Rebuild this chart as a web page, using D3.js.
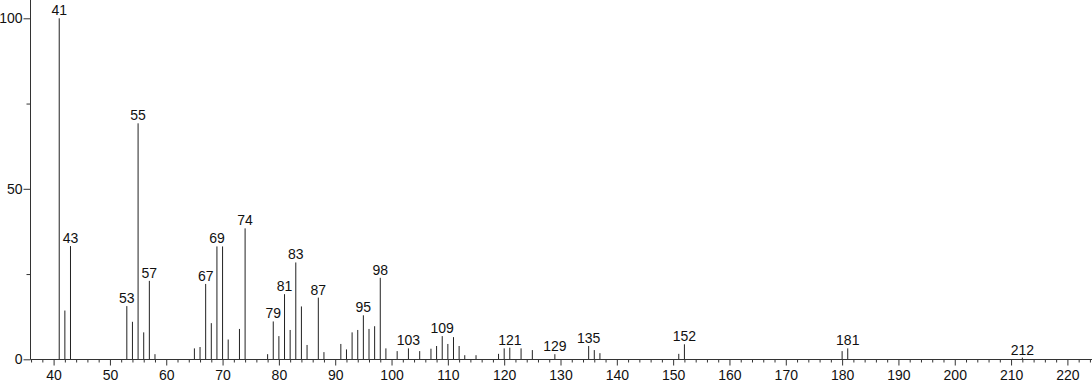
<!DOCTYPE html>
<html>
<head>
<meta charset="utf-8">
<script src="https://cdn.jsdelivr.net/npm/d3@7"></script>
<style>
html,body{margin:0;padding:0;background:#fff;}
svg{display:block;}
text{font-family:"Liberation Sans",Arial,sans-serif;font-size:14px;fill:#111;}
</style>
</head>
<body>
<svg id="chart" width="1092" height="384"></svg>
<script>
const mz = [41,42,43,53,54,55,56,57,58,65,66,67,68,69,70,71,73,74,78,79,80,81,82,83,84,85,87,88,91,92,93,94,95,96,97,98,99,101,103,105,107,108,109,110,111,112,113,115,119,120,121,123,125,129,135,136,137,151,152,180,181,212];
const intensity = [100,14.3,33.2,15.6,11.0,69.2,7.9,23.0,1.5,3.2,3.6,22.1,10.6,33.1,33.1,5.8,8.9,38.4,1.5,11.1,6.8,19.1,8.6,28.4,15.5,4.2,18.1,2.1,4.5,2.9,7.9,8.6,12.9,8.9,9.7,23.9,3.2,2.4,3.2,2.4,3.1,3.9,6.8,4.5,6.5,3.9,1.2,1.2,1.6,3.2,3.4,3.2,2.7,1.5,3.9,2.7,1.8,1.6,4.4,2.4,3.2,0.5];
const labeledPeaks = [41,43,53,55,57,67,69,74,79,81,83,87,95,98,103,109,121,129,135,152,181,212];
const xMajorTicks = [40,50,60,70,80,90,100,110,120,130,140,150,160,170,180,190,200,210,220];
const yMajorTicks = [0,50,100];
const yMinorTicks = [25,75];

const svg = d3.select("#chart");
const W = 1092, H = 384;
const x = d3.scaleLinear().domain([40,220]).range([53.6,1067.4]);
const y = d3.scaleLinear().domain([0,100]).range([359.3,18.3]);
const axisX0 = 30.5, axisY0 = 359.5;
const FONT = "Liberation Sans, Arial, sans-serif";

const data = mz.map((m,i)=>({m, v:intensity[i]}));

// bars (stick spectrum)
svg.append("g").selectAll("line").data(data).join("line")
  .attr("x1",d=>x(d.m)).attr("x2",d=>x(d.m))
  .attr("y1",axisY0).attr("y2",d=>y(d.v))
  .attr("stroke","#222").attr("stroke-width",1);

// x axis
const minorX = d3.range(36,225,2).filter(v=>v%10!==0);
const gx = svg.append("g").attr("transform",`translate(0,${axisY0})`);
gx.call(d3.axisBottom(x).tickValues(minorX).tickSize(3).tickFormat(""))
  .call(g=>g.select(".domain").remove());
gx.append("g").call(d3.axisBottom(x).tickValues(xMajorTicks).tickSize(6).tickPadding(5).tickFormat(d3.format("d")))
  .call(g=>g.select(".domain").remove());
gx.selectAll("line").attr("stroke","#333");
gx.selectAll("text").attr("font-size",14).attr("font-family",FONT).attr("fill","#111");
svg.append("line").attr("x1",axisX0).attr("x2",W).attr("y1",axisY0).attr("y2",axisY0).attr("stroke","#333");

// y axis
const gy = svg.append("g").attr("transform",`translate(${axisX0},0)`);
gy.call(d3.axisLeft(y).tickValues(yMinorTicks).tickSize(4).tickFormat(""))
  .call(g=>g.select(".domain").remove());
gy.append("g").call(d3.axisLeft(y).tickValues(yMajorTicks).tickSize(7).tickPadding(1).tickFormat(d3.format("d")))
  .call(g=>g.select(".domain").remove());
gy.selectAll("line").attr("stroke","#333");
gy.selectAll("text").attr("font-size",14).attr("font-family",FONT).attr("fill","#111");
svg.append("line").attr("x1",axisX0).attr("x2",axisX0).attr("y1",0).attr("y2",axisY0).attr("stroke","#333");

// peak labels
svg.append("g").selectAll("text").data(data.filter(d=>labeledPeaks.includes(d.m))).join("text")
  .attr("x",d=>x(d.m)).attr("y",d=>y(d.v)-3)
  .attr("text-anchor","middle")
  .attr("font-size",14)
  .text(d=>d.m);
</script>
</body>
</html>
